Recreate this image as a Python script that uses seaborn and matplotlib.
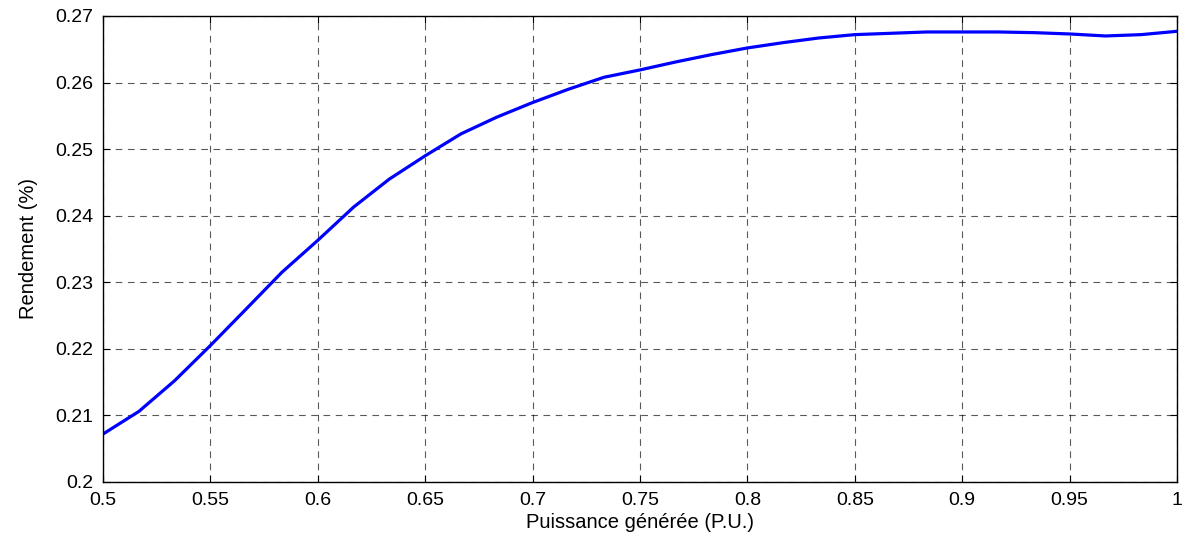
import numpy as np
import pandas as pd
import matplotlib
matplotlib.use("Agg")
import matplotlib.pyplot as plt
import seaborn as sns

puissance = [0.5, 0.5167, 0.5333, 0.55, 0.5667, 0.5833, 0.6, 0.6167, 0.6333, 0.65,
             0.6667, 0.6833, 0.7, 0.7167, 0.7333, 0.75, 0.7667, 0.7833, 0.8, 0.8167,
             0.8333, 0.85, 0.8667, 0.8833, 0.9, 0.9167, 0.9333, 0.95, 0.9667, 0.9833, 1.0]
rendement = [0.2072, 0.2106, 0.2152, 0.2205, 0.2260, 0.2315, 0.2363, 0.2413, 0.2455, 0.2490,
             0.2523, 0.2548, 0.2570, 0.2590, 0.2608, 0.2619, 0.2631, 0.2642, 0.2652, 0.2660,
             0.2667, 0.2672, 0.2674, 0.2676, 0.2676, 0.2676, 0.2675, 0.2673, 0.2670, 0.2672, 0.2677]
xticks = [0.5, 0.55, 0.6, 0.65, 0.7, 0.75, 0.8, 0.85, 0.9, 0.95, 1.0]
xticklabels = ["0.5", "0.55", "0.6", "0.65", "0.7", "0.75", "0.8", "0.85", "0.9", "0.95", "1"]
yticks = [0.2, 0.21, 0.22, 0.23, 0.24, 0.25, 0.26, 0.27]
yticklabels = ["0.2", "0.21", "0.22", "0.23", "0.24", "0.25", "0.26", "0.27"]

sns.set_style("ticks")
plt.rcParams['font.family'] = ['Liberation Sans', 'DejaVu Sans']
plt.rcParams['text.color'] = 'black'
plt.rcParams['axes.labelcolor'] = 'black'

df = pd.DataFrame({"x": puissance, "y": rendement})
fig = plt.figure(figsize=(11.92, 5.44), dpi=100)
ax = fig.add_axes([0.0864, 0.114, 0.901, 0.8566])
sns.lineplot(data=df, x="x", y="y", ax=ax, color="#0000ff", linewidth=2.3)

ax.set_xlim(0.5, 1.0)
ax.set_ylim(0.2, 0.27)
ax.set_xticks(xticks)
ax.set_xticklabels(xticklabels)
ax.set_yticks(yticks)
ax.set_yticklabels(yticklabels)
ax.grid(True, linestyle=(0, (6, 5)), color="black", linewidth=0.8, alpha=0.65)
ax.tick_params(direction="in", length=5, labelsize=14, top=True, right=True,
               colors="black", labelcolor="black")
ax.tick_params(axis="y", pad=7)
ax.tick_params(axis="x", pad=7)
for s in ax.spines.values():
    s.set_color("black")
    s.set_linewidth(1.0)
ax.set_xlabel("Puissance générée (P.U.)", fontsize=14.5, labelpad=3, color="black")
ax.set_ylabel("Rendement (%)", fontsize=14.5, labelpad=12, color="black")

fig.savefig("out.png", dpi=100)
